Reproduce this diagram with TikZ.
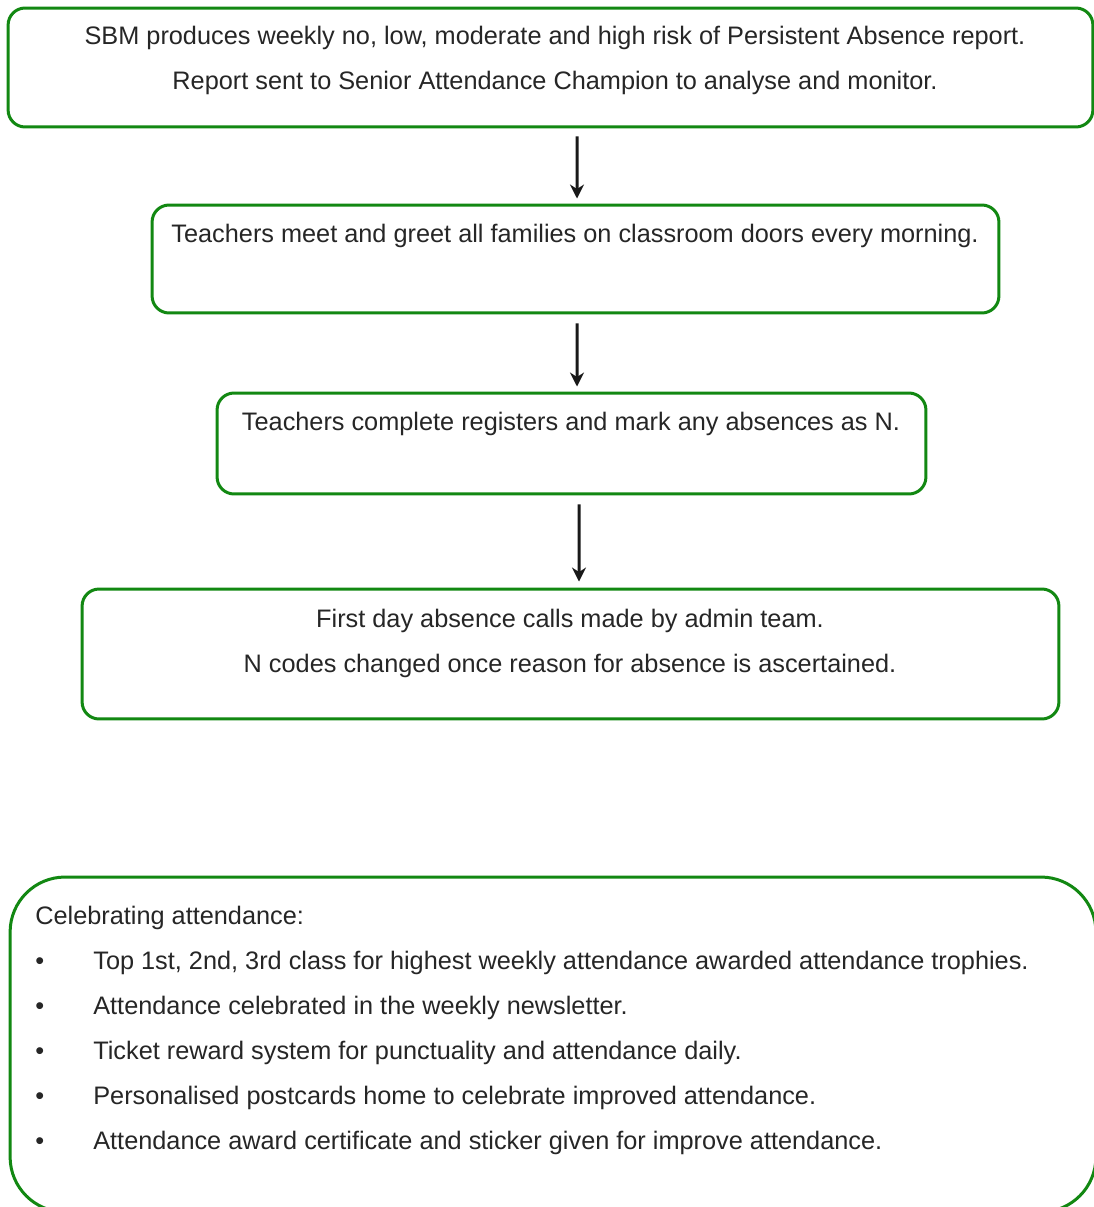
\documentclass[tikz,border=0pt]{standalone}
\usepackage{fontspec}
\setmainfont{Liberation Sans}
\usetikzlibrary{arrows.meta,positioning}
\definecolor{boxgreen}{RGB}{18,136,18}

\begin{document}
\begin{tikzpicture}[
  x=0.02cm, y=-0.02cm,
  stepbox/.style={rectangle, rounded corners=0.34cm, draw=boxgreen, line width=0.06cm, fill=white},
  bigbox/.style={stepbox, rounded corners=1.1cm},
  txt/.style={inner sep=0pt, font=\fontsize{14.4}{25.6}\selectfont, text=black!85},
  arrow/.style={-{Stealth[length=0.28cm, width=0.28cm]}, line width=0.06cm, black!90}
]
\useasboundingbox (0,0) rectangle (1094,1207);

% Flow boxes
\node[stepbox, minimum width=21.70cm, minimum height=2.38cm] (report) at (550.5,67.5) {};
\node[stepbox, minimum width=16.94cm, minimum height=2.16cm] (greet) at (575.5,259) {};
\node[stepbox, minimum width=14.18cm, minimum height=2.02cm] (register) at (571.5,443.5) {};
\node[stepbox, minimum width=19.54cm, minimum height=2.60cm] (calls) at (570.5,654) {};

% Box texts (base = last line)
\node[txt, anchor=base, align=center] (report_txt) at (555,89)
  {SBM produces weekly no, low, moderate and high risk of Persistent Absence report.\\
   Report sent to Senior Attendance Champion to analyse and monitor.};
\node[txt, anchor=base] (greet_txt) at (575,242)
  {Teachers meet and greet all families on classroom doors every morning.};
\node[txt, anchor=base] (register_txt) at (571,430)
  {Teachers complete registers and mark any absences as N.};
\node[txt, anchor=base, align=center] (calls_txt) at (570,672)
  {First day absence calls made by admin team.\\
   N codes changed once reason for absence is ascertained.};

\draw[arrow, shorten <=0.16cm, shorten >=0.1cm] ([xshift=0.53cm]report.south) -- ([xshift=0.03cm]greet.north);
\draw[arrow, shorten <=0.18cm, shorten >=0.1cm] ([xshift=0.03cm]greet.south) -- ([xshift=0.11cm]register.north);
\draw[arrow, shorten <=0.18cm, shorten >=0.12cm] ([xshift=0.15cm]register.south) -- ([xshift=0.17cm]calls.north);

% Celebrating attendance
\node[bigbox, minimum width=21.72cm, minimum height=6.70cm] (celebrate) at (553,1044.5) {};
\node[txt, anchor=base west, align=left] (celebrate_txt) at (35,1149)
  {Celebrating attendance:\\
   \makebox[1.16cm][l]{•}Top 1st, 2nd, 3rd class for highest weekly attendance awarded attendance trophies.\\
   \makebox[1.16cm][l]{•}Attendance celebrated in the weekly newsletter.\\
   \makebox[1.16cm][l]{•}Ticket reward system for punctuality and attendance daily.\\
   \makebox[1.16cm][l]{•}Personalised postcards home to celebrate improved attendance.\\
   \makebox[1.16cm][l]{•}Attendance award certificate and sticker given for improve attendance.};

\end{tikzpicture}
\end{document}
